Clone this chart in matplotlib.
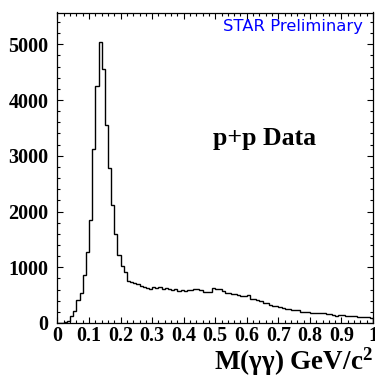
import numpy as np
import matplotlib
matplotlib.use("Agg")
import matplotlib.pyplot as plt
from matplotlib.ticker import MultipleLocator

plt.rcParams['mathtext.fontset'] = 'custom'
plt.rcParams['mathtext.rm'] = 'Liberation Serif:bold'
plt.rcParams['mathtext.bf'] = 'Liberation Serif:bold'
plt.rcParams['mathtext.it'] = 'Liberation Serif:bold:italic'

# Bin edges: 100 bins from 0 to 1 GeV/c^2
bin_edges = np.linspace(0.0, 1.0, 101)

counts = [
    0, 5, 12, 36, 120, 220, 405, 537, 866, 1267,
    1846, 3118, 4253, 5045, 4564, 3560, 2780, 2115, 1590, 1225,
    1020, 910, 755, 729, 711, 693, 669, 651, 627, 609,
    645, 621, 645, 615, 627, 603, 597, 615, 579, 591,
    580, 590, 595, 610, 615, 590, 556, 556, 556, 621,
    603, 615, 580, 545, 543, 520, 515, 508, 484, 490,
    496, 438, 430, 412, 388, 364, 350, 330, 310, 300,
    290, 275, 250, 245, 240, 232, 230, 200, 205, 200,
    188, 185, 183, 178, 172, 165, 160, 150, 125, 140,
    137, 132, 130, 127, 124, 115, 112, 105, 100, 95,
]

xticks = [0, 0.1, 0.2, 0.3, 0.4, 0.5, 0.6, 0.7, 0.8, 0.9, 1]
xticklabels = ["0", "0.1", "0.2", "0.3", "0.4", "0.5", "0.6", "0.7", "0.8", "0.9", "1"]
yticks = [0, 1000, 2000, 3000, 4000, 5000]
yticklabels = ["0", "1000", "2000", "3000", "4000", "5000"]

fig = plt.figure(figsize=(3.75, 3.77), dpi=100)
ax = fig.add_axes([57.5 / 375, 1 - 323 / 377, (373 - 57.5) / 375, (323 - 12.5) / 377])

ax.stairs(counts, bin_edges, color='black', linewidth=1.0)

ax.set_xlim(0, 1)
ax.set_ylim(0, 5570)

ax.set_xticks(xticks)
ax.set_xticklabels(xticklabels)
ax.set_yticks(yticks)
ax.set_yticklabels(yticklabels)
ax.xaxis.set_minor_locator(MultipleLocator(0.02))
ax.yaxis.set_minor_locator(MultipleLocator(200))

ax.tick_params(which='both', direction='in', top=True, right=True, width=0.8, color='black')
ax.tick_params(which='major', length=4.5)
ax.tick_params(which='minor', length=2.3)
ax.tick_params(axis='x', which='major', pad=2.5)
ax.tick_params(axis='y', which='major', pad=6.5)

for lab in ax.get_xticklabels() + ax.get_yticklabels():
    lab.set_fontfamily('Liberation Serif')
    lab.set_fontweight('bold')
    lab.set_fontsize(14.5)

for sp in ax.spines.values():
    sp.set_linewidth(0.9)
    sp.set_color('black')

ax.set_xlabel("M(γγ) GeV/c$^{\\mathbf{2}}$", fontfamily='Liberation Serif',
              fontweight='bold', fontsize=19.5, loc='right', labelpad=-1)

fig.text(265 / 375, 1 - 138 / 377, "p+p Data", fontfamily='Liberation Serif',
         fontweight='bold', fontsize=18.5, ha='center', va='center')

fig.text(363 / 375, 1 - 27 / 377, "STAR Preliminary", color='#0000ff', fontfamily='DejaVu Sans',
         fontsize=11.8, ha='right', va='center')

fig.savefig("out.png", dpi=100, facecolor='white')
